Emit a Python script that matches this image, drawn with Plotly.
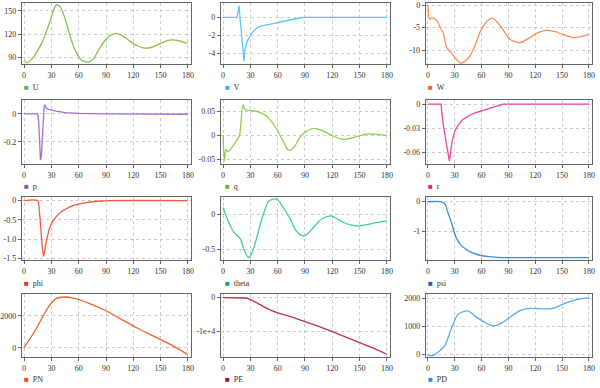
import plotly.graph_objects as go
from plotly.subplots import make_subplots

# ---------------- data ----------------
t_U = [0, 3, 10, 20, 28, 33, 36, 40, 45, 50, 55, 62, 67, 71, 76, 84, 92, 100, 106, 115, 124, 132, 140, 150, 158, 163, 170, 180]
U = [86, 83, 90, 110, 135, 153, 158, 155, 140, 120, 102, 88, 84.5, 84, 88, 104, 116, 121, 119.5, 112, 105, 102, 103, 108, 112, 112.5, 111.5, 108]

t_V = [0, 15, 16, 17.5, 19, 21, 23, 24, 25.5, 26.5, 28, 30, 33, 37, 42, 48, 55, 62, 70, 78, 85, 90, 180]
V = [0, 0, 0.3, 1.3, -0.5, -3, -4.9, -3.6, -2.8, -2.65, -2.4, -2.0, -1.6, -1.2, -0.95, -0.8, -0.7, -0.55, -0.35, -0.15, -0.05, 0, 0]

t_W = [0, 1.8, 4.4, 10, 15, 17, 21, 26, 31, 37, 42, 48, 54, 59, 65, 72, 81, 92, 103, 114, 123, 132, 142, 151, 162, 171, 180]
W = [0, -3.2, -2.8, -3.5, -5.4, -6.1, -9.4, -10.5, -11.8, -12.9, -12.3, -10.9, -8.3, -5.7, -3.8, -2.9, -4.6, -7.6, -8.3, -7.2, -6.1, -5.6, -5.9, -6.5, -7.2, -7.0, -6.5]

t_p = [0, 15, 16, 17, 18, 19, 20, 21, 22, 23, 24, 26, 30, 35, 45, 60, 90, 180]
p = [0, 0, -0.05, -0.25, -0.33, -0.3, -0.15, -0.02, 0.05, 0.065, 0.045, 0.035, 0.028, 0.02, 0.01, 0.004, 0.0, -0.002]

t_q = [0, 1.5, 3, 5.5, 10, 14, 18, 21.7, 24, 30, 37, 48, 59, 66, 72, 78, 84, 92, 100, 109, 120, 131, 146, 158, 171, 180]
q = [0, -0.053, -0.029, -0.034, -0.024, -0.013, 0.0, 0.064, 0.054, 0.052, 0.05, 0.04, 0.013, -0.012, -0.031, -0.024, -0.005, 0.01, 0.015, 0.01, 0.0, -0.008, -0.003, 0.003, 0.002, 0.0]

t_r = [0, 14.6, 17, 20, 21, 24, 25.5, 27, 30, 33.7, 38, 44.6, 52, 63, 74, 84, 180]
r = [0, 0, -0.025, -0.0504, -0.052, -0.071, -0.06, -0.046, -0.034, -0.026, -0.02, -0.015, -0.011, -0.007, -0.003, 0, 0]

t_phi = [0, 15, 16, 18, 20, 21.5, 23, 25, 28, 32, 36, 40, 45, 50, 55, 61, 68, 75, 85, 95, 180]
phi = [0, 0, -0.1, -0.6, -1.2, -1.45, -1.25, -1.0, -0.72, -0.52, -0.4, -0.31, -0.23, -0.17, -0.12, -0.085, -0.05, -0.03, -0.01, 0, 0]

t_theta = [0, 6, 11.6, 19, 22.5, 28, 31.5, 36, 40.5, 45, 49.6, 55, 59.7, 65, 69.5, 75, 80, 87.6, 93, 98.5, 104, 109, 119.5, 131, 140, 149, 164, 180]
theta = [0.1, -0.11, -0.25, -0.35, -0.49, -0.62, -0.56, -0.38, -0.16, 0.03, 0.18, 0.22, 0.21, 0.12, 0.03, -0.1, -0.23, -0.31, -0.28, -0.2, -0.12, -0.06, -0.024, -0.11, -0.15, -0.17, -0.13, -0.095]

t_psi = [0, 15.4, 19, 22, 26, 29, 32, 36, 41, 48, 59, 68, 77.6, 92, 180]
psi = [-0.02, -0.02, -0.09, -0.35, -0.69, -1.0, -1.24, -1.43, -1.57, -1.7, -1.81, -1.85, -1.87, -1.88, -1.88]

t_PN = [0, 13.5, 22, 28, 35, 44, 53, 72, 90, 122.5, 159, 180]
PN = [0, 1200, 2100, 2650, 3070, 3170, 3110, 2760, 2310, 1280, 250, -430]

t_PE = [0, 20, 25, 30, 36, 44, 52, 60, 75, 90, 105, 120, 135, 150, 165, 180]
PE = [0, -20, -100, -500, -1300, -2600, -3700, -4500, -5700, -7000, -8500, -10100, -11700, -13300, -15000, -16800]

t_PD = [0, 4.4, 11.7, 19, 26, 33.7, 44.6, 52, 63, 72, 81, 92, 103, 114, 128, 140, 151, 165, 180]
PD = [-20, -50, 80, 320, 900, 1430, 1550, 1380, 1150, 1020, 1090, 1330, 1560, 1640, 1620, 1640, 1790, 1940, 2020]

names = ["U", "V", "W", "p", "q", "r", "phi", "theta", "psi", "PN", "PE", "PD"]
x_ticks = [0, 30, 60, 90, 120, 150, 180]

# ---------------- styling ----------------
series = [
    (t_U, U, "#8cc152", "#6cae3a", "spline"),
    (t_V, V, "#5cc8f2", "#3cb4ea", "linear"),
    (t_W, W, "#ff8a55", "#f4622a", "spline"),
    (t_p, p, "#a66fd0", "#8e4fbf", "linear"),
    (t_q, q, "#8ad04a", "#6ab82f", "spline"),
    (t_r, r, "#f0439b", "#e0207c", "linear"),
    (t_phi, phi, "#f65a45", "#ec2f24", "spline"),
    (t_theta, theta, "#3ed18e", "#16a85a", "spline"),
    (t_psi, psi, "#3d8fd8", "#1565b8", "spline"),
    (t_PN, PN, "#f4602a", "#ee4a12", "spline"),
    (t_PE, PE, "#c0304a", "#a0142e", "linear"),
    (t_PD, PD, "#58aaea", "#2f8ee0", "spline"),
]

y_ranges = [[81, 160.3], [-5.25, 1.6], [-13.1, 0.45],
            [-0.36, 0.1], [-0.06, 0.074], [-0.075, 0.0053],
            [-1.55, 0.095], [-0.66, 0.25], [-1.97, 0.14],
            [-600, 3360], [-17700, 1100], [-106, 2155]]
y_tickvals = [[90, 120, 150], [-4, -2, 0], [-10, -5, 0],
              [-0.2, 0], [-0.05, 0, 0.05], [-0.06, -0.03, 0],
              [-1.5, -1.0, -0.5, 0], [-0.5, 0], [-1, 0],
              [0, 2000], [-10000, 0], [0, 1000, 2000]]
y_ticktext = [["90", "120", "150"], ["-4", "-2", "0"], ["-10", "-5", "0"],
              ["-0.2", "0"], ["-0.05", "0", "0.05"], ["-0.06", "-0.03", "0"],
              ["-1.5", "-1.0", "-0.5", "0"], ["-0.5", "0"], ["-1", "0"],
              ["0", "2000"], ["-1e+4", "0"], ["0", "1000", "2000"]]

W_PX, H_PX = 600, 388
col_px = [(19, 190), (220, 391), (427, 595)]
row_px = [(2, 64), (100, 165), (198, 262), (296, 360)]
legend_y = [87, 187, 285, 382]
legend_x = [19, 222, 427]

FONT = "Liberation Serif"

fig = make_subplots(rows=4, cols=3)

annotations = []
for i, (tx, ty, col, lcol, shape) in enumerate(series):
    r_i, c_i = divmod(i, 3)
    fig.add_trace(go.Scatter(x=tx, y=ty, mode="lines", name=names[i],
                             line=dict(color=col, width=1.3, shape=shape, smoothing=0.8),
                             showlegend=False, hoverinfo="x+y"),
                  row=r_i + 1, col=c_i + 1)
    x0, x1 = col_px[c_i]
    y0, y1 = row_px[r_i]
    ax = "" if i == 0 else str(i + 1)
    fig.layout["xaxis" + ax].update(
        domain=[x0 / W_PX, x1 / W_PX], range=[-2.5, 183.5],
        tickvals=x_ticks, showline=True, mirror=True, linecolor="#666", linewidth=1,
        ticks="outside", ticklen=3, tickcolor="#666",
        showgrid=True, gridcolor="#cccccc", griddash="dot", gridwidth=1,
        zeroline=False, tickfont=dict(family=FONT, size=8, color="#333"))
    fig.layout["yaxis" + ax].update(
        domain=[1 - y1 / H_PX, 1 - y0 / H_PX], range=y_ranges[i],
        tickvals=y_tickvals[i], ticktext=y_ticktext[i],
        showline=True, mirror=True, linecolor="#666", linewidth=1,
        ticks="outside", ticklen=3, tickcolor="#666",
        showgrid=True, gridcolor="#cccccc", griddash="dot", gridwidth=1,
        zeroline=False, tickfont=dict(family=FONT, size=8, color="#333"))
    annotations.append(dict(
        x=legend_x[c_i] / W_PX, y=1 - legend_y[r_i] / H_PX, xref="paper", yref="paper",
        xanchor="left", yanchor="middle", showarrow=False,
        text='<span style="color:%s">■</span>  %s' % (lcol, names[i]),
        font=dict(family=FONT, size=8, color="#333")))

fig.update_layout(width=W_PX, height=H_PX, margin=dict(l=0, r=0, t=0, b=0),
                  paper_bgcolor="white", plot_bgcolor="white",
                  annotations=annotations, showlegend=False,
                  font=dict(family=FONT, size=8, color="#333"))

fig.write_html("out.html", config={"displayModeBar": False},
               post_script="document.body.style.margin='0';document.body.style.overflow='hidden';")
